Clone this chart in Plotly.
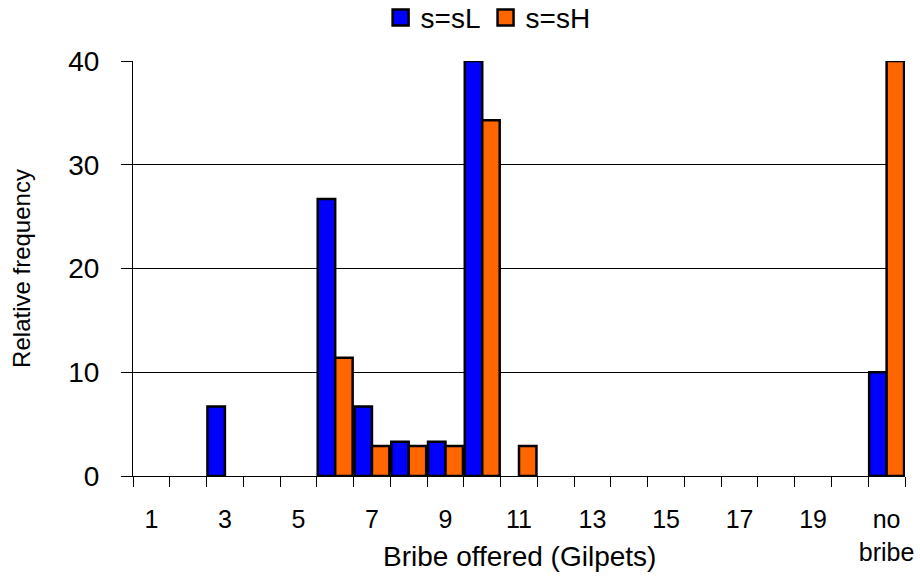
import plotly.graph_objects as go

# bribe categories 1..20 plus "no bribe"; None = no bar
bribe = list(range(1, 22))
tick_pos = list(range(1, 22, 2))
tick_text = ["1", "3", "5", "7", "9", "11", "13", "15", "17", "19", "no<br>bribe"]

s_low = [None, None, 6.7, None, None, 26.7, 6.7, 3.3, 3.3, 40, None,
         None, None, None, None, None, None, None, None, None, 10]
s_high = [None, None, None, None, None, 11.4, 2.9, 2.9, 2.9, 34.3, 2.9,
          None, None, None, None, None, None, None, None, None, 40]

series = [("s=sL", s_low, "#0000ff"), ("s=sH", s_high, "#ff6600")]

fig = go.Figure()
for name, vals, col in series:
    fig.add_trace(go.Bar(x=bribe, y=vals, name=name, showlegend=False, legendgroup=name,
                         marker=dict(color=col, line=dict(color="black", width=2.5))))
# bigger square swatches for the legend
for name, vals, col in series:
    fig.add_trace(go.Scatter(x=[None], y=[None], mode="markers", name=name, legendgroup=name,
                             marker=dict(symbol="square", size=16, color=col,
                                         line=dict(color="black", width=2.5))))

fig.update_layout(
    width=920, height=577,
    margin=dict(l=133, r=15, t=61, b=101, autoexpand=False),
    plot_bgcolor="white", paper_bgcolor="white",
    barmode="group", bargap=0.05, bargroupgap=0,
    font=dict(family="Liberation Sans, Arial, sans-serif", size=25, color="black"),
    showlegend=True,
    legend=dict(orientation="h", x=0.46, xanchor="center", y=1.104, yanchor="middle",
                font=dict(size=28), itemwidth=30, traceorder="normal", tracegroupgap=0),
)
fig.update_xaxes(
    range=[0.5, 21.5], tickvals=tick_pos, ticktext=tick_text,
    ticks="", ticklabelstandoff=21, showgrid=False, automargin=False,
    showline=True, linecolor="black", linewidth=1,
    minor=dict(tick0=0.5, dtick=1, ticks="outside", ticklen=10, tickcolor="black", showgrid=False),
    tickfont=dict(size=25),
)
fig.update_yaxes(
    range=[0, 40], tickvals=[0, 10, 20, 30, 40],
    ticks="outside", ticklen=11, tickcolor="black", automargin=False,
    ticklabelstandoff=16,
    showgrid=True, gridcolor="black", gridwidth=0.6,
    showline=True, linecolor="black", linewidth=1, zeroline=False,
    tickfont=dict(size=28),
    title=dict(text="Relative frequency", font=dict(size=24), standoff=30),
)
fig.add_annotation(text="Bribe offered (Gilpets)", xref="paper", yref="paper",
                   x=0.5, y=-0.195, xanchor="center", yanchor="middle",
                   showarrow=False, font=dict(size=28))

fig.write_html("out.html", config={"displayModeBar": False},
               post_script="document.body.style.margin='0px';")
